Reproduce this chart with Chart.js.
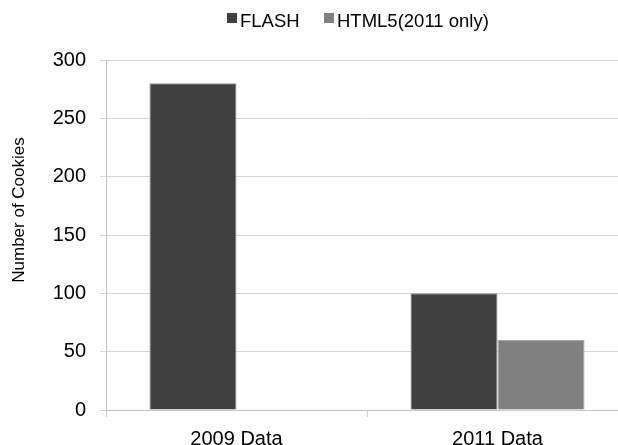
<!DOCTYPE html>
<html>
<head>
<meta charset="utf-8">
<script src="https://cdn.jsdelivr.net/npm/chart.js@4.4.1/dist/chart.umd.min.js"></script>
<style>
  html, body { margin: 0; padding: 0; background: #fff; }
  #wrap { width: 618px; height: 445px; overflow: hidden; position: relative; }
  #wrap canvas { display: block; }
</style>
</head>
<body>
<div id="wrap"><canvas id="cookiesChart" width="640" height="460"></canvas></div>
<script>
const categories = ['2009 Data', '2011 Data'];
const flashValues = [280, 100];
const html5Values = [null, 60];
const seriesNames = ['FLASH', 'HTML5(2011 only)'];
const yTicks = [0, 50, 100, 150, 200, 250, 300];
const yTitle = 'Number of Cookies';

const FONT = '"Liberation Sans", Arial, sans-serif';

// legend + axis title drawn by hand so they sit where the original has them
const extrasPlugin = {
  id: 'extras',
  afterDraw(chart) {
    const ctx = chart.ctx;
    ctx.save();
    ctx.font = '18.5px ' + FONT;
    ctx.textBaseline = 'alphabetic';
    ctx.textAlign = 'left';
    const boxX = [227, 324];
    chart.data.datasets.forEach((ds, i) => {
      ctx.fillStyle = ds.backgroundColor;
      ctx.fillRect(boxX[i], 13, 10, 10);
      ctx.fillStyle = '#000';
      ctx.fillText(ds.label, boxX[i] + 13, 27);
    });

    ctx.translate(19, 210);
    ctx.rotate(-Math.PI / 2);
    ctx.font = '17px ' + FONT;
    ctx.textAlign = 'center';
    ctx.textBaseline = 'middle';
    ctx.fillText(yTitle, 0, 0);
    ctx.restore();
  }
};

const ctx = document.getElementById('cookiesChart').getContext('2d');
new Chart(ctx, {
  type: 'bar',
  data: {
    labels: categories,
    datasets: [{
      label: seriesNames[0],
      data: flashValues,
      backgroundColor: '#404040',
      borderColor: '#8a8a8a',
      borderWidth: 1
    }, {
      label: seriesNames[1],
      data: html5Values,
      backgroundColor: '#808080',
      borderColor: '#a6a6a6',
      borderWidth: 1
    }]
  },
  options: {
    responsive: false,
    animation: false,
    layout: {
      padding: { top: 60, right: 12, bottom: 0, left: 0 }
    },
    datasets: {
      bar: {
        categoryPercentage: 0.667,
        barPercentage: 1.0
      }
    },
    plugins: {
      legend: { display: false },
      tooltip: { enabled: false }
    },
    scales: {
      x: {
        afterFit(scale) { scale.height = 50; },
        grid: {
          offset: true,
          drawOnChartArea: false,
          drawTicks: true,
          tickLength: 7,
          color: '#cfcfcf'
        },
        border: { color: '#c4c4c4', width: 1 },
        ticks: {
          color: '#000',
          padding: 10,
          font: { family: FONT, size: 20 }
        }
      },
      y: {
        min: 0,
        max: 300,
        afterFit(scale) { scale.width = 106; },
        afterBuildTicks(scale) {
          scale.ticks = yTicks.map(v => ({ value: v }));
        },
        grid: {
          color: '#d6d6d6',
          tickLength: 6,
          drawTicks: true
        },
        border: { color: '#c4c4c4', width: 1 },
        ticks: {
          color: '#000',
          padding: 14,
          font: { family: FONT, size: 20 }
        }
      }
    }
  },
  plugins: [extrasPlugin]
});
</script>
</body>
</html>
